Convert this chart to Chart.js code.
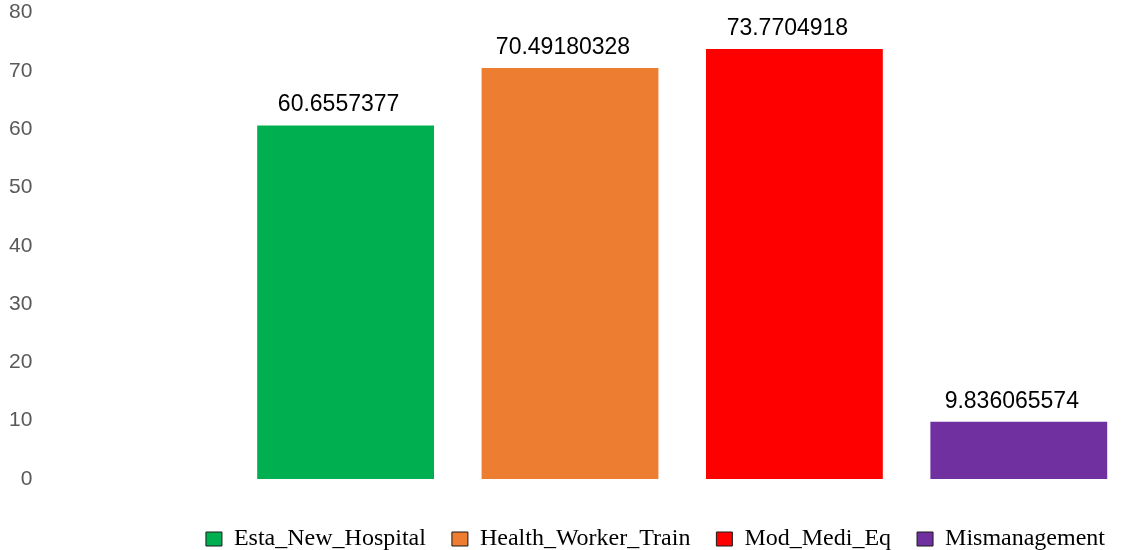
<!DOCTYPE html>
<html>
<head>
<meta charset="utf-8">
<script src="https://cdn.jsdelivr.net/npm/chart.js@4/dist/chart.umd.min.js"></script>
<style>
  html, body { margin: 0; padding: 0; background: #fff; }
  #wrap { width: 1143px; height: 550px; position: relative; }
</style>
</head>
<body>
<div id="wrap"><canvas id="chart"></canvas></div>
<script>
// data
const categories = ['Esta_New_Hospital', 'Health_Worker_Train', 'Mod_Medi_Eq', 'Mismanagement'];
const values = [60.6557377, 70.49180328, 73.7704918, 9.836065574];
const yTicks = [0, 10, 20, 30, 40, 50, 60, 70, 80];

const barColors = ['#00B050', '#ED7D31', '#FF0000', '#7030A0'];

// first slot on the x axis is empty in the original
const slots = [''].concat(categories);

const datasets = categories.map(function(name, i) {
    return {
        label: name,
        data: slots.map(function(_, j) { return j === i + 1 ? values[i] : null; }),
        backgroundColor: barColors[i],
        borderWidth: 0,
        categoryPercentage: 0.8,
        barPercentage: 0.985
    };
});

// value labels above the bars
const valueLabels = {
    id: 'valueLabels',
    afterDatasetsDraw: function(chart) {
        const ctx = chart.ctx;
        ctx.save();
        ctx.font = '23px "Liberation Sans", Arial, sans-serif';
        ctx.fillStyle = '#000';
        ctx.textAlign = 'center';
        ctx.textBaseline = 'alphabetic';
        chart.data.datasets.forEach(function(ds, i) {
            const meta = chart.getDatasetMeta(i);
            meta.data.forEach(function(bar, j) {
                if (ds.data[j] === null) return;
                ctx.fillText(String(ds.data[j]), bar.x - 7, bar.y - 14);
            });
        });
        ctx.restore();
    }
};

const ctx = document.getElementById('chart').getContext('2d');
new Chart(ctx, {
    type: 'bar',
    data: { labels: slots, datasets: datasets },
    options: {
        responsive: true,
        maintainAspectRatio: false,
        animation: false,
        layout: { padding: { left: 9, right: 12, top: 12, bottom: -11 } },
        scales: {
            x: {
                stacked: true,
                grid: { display: false, drawTicks: false },
                border: { display: false },
                ticks: { display: false },
                afterFit: function(scale) { scale.height = 22; }
            },
            y: {
                min: yTicks[0],
                max: yTicks[yTicks.length - 1],
                grid: { display: false, drawTicks: false },
                border: { display: false },
                ticks: {
                    stepSize: yTicks[1] - yTicks[0],
                    mirror: true,
                    crossAlign: 'far',
                    padding: 0,
                    color: '#595959',
                    font: { family: '"Liberation Sans", Arial, sans-serif', size: 21 }
                }
            }
        },
        plugins: {
            tooltip: { enabled: false },
            legend: {
                position: 'bottom',
                align: 'end',
                labels: {
                    boxWidth: 16,
                    boxHeight: 14,
                    padding: 26,
                    color: '#000',
                    font: { family: '"Liberation Serif", "Times New Roman", serif', size: 24 },
                    generateLabels: function(chart) {
                        const items = Chart.defaults.plugins.legend.labels.generateLabels(chart);
                        items.forEach(function(item) {
                            item.strokeStyle = '#1a1a1a';
                            item.lineWidth = 1;
                        });
                        return items;
                    }
                }
            }
        }
    },
    plugins: [valueLabels]
});
</script>
</body>
</html>
